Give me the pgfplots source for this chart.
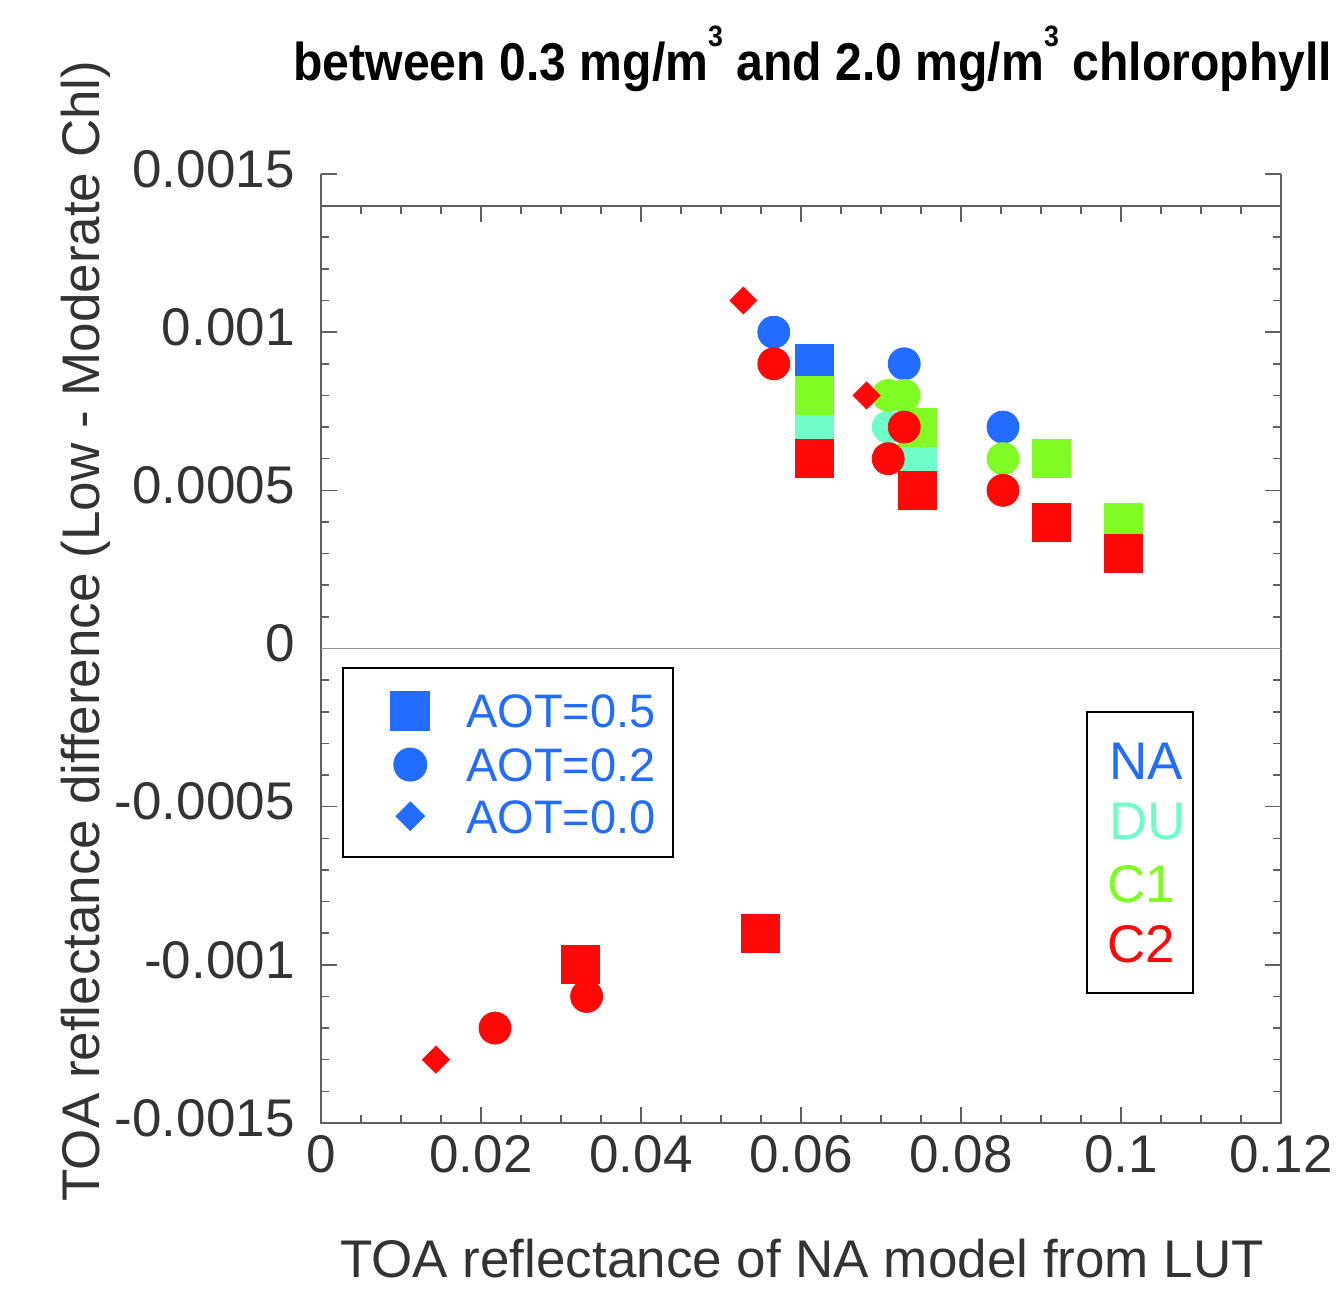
\documentclass[border=0pt]{standalone}
\usepackage{pgfplots}
\pgfplotsset{compat=1.18}
\usepackage{fontspec}
\setmainfont{Liberation Sans}

\definecolor{NAblue}{RGB}{34,108,255}
\definecolor{DUcyan}{RGB}{110,255,200}
\definecolor{Cgreen}{RGB}{128,252,36}
\definecolor{Cred}{RGB}{255,8,8}
\definecolor{txtgray}{RGB}{51,51,51}
\definecolor{axgray}{RGB}{95,95,95}

\newcommand{\bigfont}{\fontsize{26.5}{28}\selectfont}

\begin{document}
\begin{tikzpicture}
\useasboundingbox (-160.5pt,-85pt) rectangle (508pt,561.5pt);

\begin{axis}[
  scale only axis,
  width=480pt, height=474.5pt,
  xmin=0, xmax=0.12,
  ymin=-0.0015, ymax=0.0015,
  clip=false,
  scaled x ticks=false, scaled y ticks=false,
  axis line style={draw=none},
  xtick={0,0.02,0.04,0.06,0.08,0.1,0.12},
  xticklabels={0,0.02,0.04,0.06,0.08,0.1,0.12},
  minor x tick num=3,
  ytick={-0.0015,-0.001,-0.0005,0,0.0005,0.001,0.0015},
  yticklabels={-0.0015,-0.001,-0.0005,0,0.0005,0.001,0.0015},
  minor y tick num=4,
  xtick pos=bottom,
  ytick pos=both,
  tick align=inside,
  major tick length=8pt,
  minor tick length=4pt,
  tick style={axgray, line width=0.75pt},
  ticklabel style={font=\bigfont, text=txtgray, inner sep=0pt},
  xticklabel style={anchor=north, yshift=-6pt},
  yticklabel style={anchor=east, xshift=-13pt, yshift=2.5pt},
  legend style={
    at={(0.02156,0.4805)}, anchor=north west,
    draw=black, line width=1pt,
    inner xsep=8.7pt, inner ysep=12pt,
    row sep=8.8pt, column sep=18.4pt,
    font=\fontsize{23.5}{25}\selectfont,
    nodes={inner sep=0pt, text height=17pt, text depth=0pt, text=NAblue, anchor=west},
  },
  legend image code/.code={
    \path[draw=none, fill=none] (-25.1pt,0pt) -- (0pt,0pt);
    \draw[#1] plot coordinates {(0pt,0pt)};
  },
]

% frame: left, bottom, right, and the zero line
\draw[axgray, line width=0.75pt] (axis cs:0,0.0015) -- (axis cs:0,-0.0015)
  -- (axis cs:0.12,-0.0015) -- (axis cs:0.12,0.0015);
\draw[axgray!70, line width=0.75pt] (axis cs:0,0) -- (axis cs:0.12,0);

% AOT=0.5 (squares)
\addplot[only marks, mark=square*, mark size=9.5pt, color=NAblue, forget plot] coordinates {
  (0.0617,0.0009)
};
\addplot[only marks, mark=square*, mark size=9.5pt, color=DUcyan, forget plot] coordinates {
  (0.0617,0.0007) (0.0745,0.0006)
};
\addplot[only marks, mark=square*, mark size=9.5pt, color=Cgreen, forget plot] coordinates {
  (0.0617,0.0008) (0.0745,0.0007) (0.09125,0.0006) (0.10025,0.0004)
};
\addplot[only marks, mark=square*, mark size=9.5pt, color=Cred, forget plot] coordinates {
  (0.0617,0.0006) (0.0745,0.0005) (0.09125,0.0004) (0.10025,0.0003)
  (0.0324,-0.001) (0.0549,-0.0009)
};

% AOT=0.2 (circles)
\addplot[only marks, mark=*, mark size=8pt, color=NAblue, forget plot] coordinates {
  (0.0566,0.0010) (0.0729,0.0009) (0.08525,0.0007)
};
\addplot[only marks, mark=*, mark size=8pt, color=DUcyan, forget plot] coordinates {
  (0.0709,0.0007)
};
\addplot[only marks, mark=*, mark size=8pt, color=Cgreen, forget plot] coordinates {
  (0.0709,0.0008) (0.0729,0.0008) (0.08525,0.0006)
};
\addplot[only marks, mark=*, mark size=8pt, color=Cred, forget plot] coordinates {
  (0.0566,0.0009) (0.0729,0.0007) (0.0709,0.0006) (0.08525,0.0005)
  (0.02175,-0.0012) (0.0332,-0.0011)
};

% AOT=0.0 (diamonds)
\addplot[only marks, mark=square*, mark size=4.77pt, mark options={rotate=45}, color=Cred, forget plot] coordinates {
  (0.0528,0.0011) (0.0682,0.0008) (0.01437,-0.0013)
};

\addlegendimage{only marks, mark=square*, mark size=9.5pt, color=NAblue}
\addlegendentry{AOT=0.5}
\addlegendimage{only marks, mark=*, mark size=8pt, color=NAblue}
\addlegendentry{AOT=0.2}
\addlegendimage{only marks, mark=square*, mark size=4.77pt, mark options={rotate=45}, color=NAblue}
\addlegendentry{AOT=0.0}
\end{axis}

% the line with ticks at 0.0014
\begin{axis}[
  scale only axis,
  width=480pt, height=458.5pt,
  xmin=0, xmax=0.12, ymin=0, ymax=1,
  hide y axis,
  axis x line*=top,
  x axis line style={-, axgray, line width=0.75pt},
  xtick={0,0.02,0.04,0.06,0.08,0.1,0.12},
  xticklabels={},
  minor x tick num=3,
  tick align=inside,
  major tick length=8pt,
  minor tick length=4pt,
  tick style={axgray, line width=0.75pt},
]
\end{axis}

% model key
\draw[black, line width=1pt] (383.15pt,64.85pt) rectangle (435.85pt,205.65pt);
\node[anchor=base west, inner sep=0pt, font=\bigfont, text=NAblue] at (394pt,171.5pt) {NA};
\node[anchor=base west, inner sep=0pt, font=\bigfont, text=DUcyan] at (394pt,141.5pt) {DU};
\node[anchor=base west, inner sep=0pt, font=\bigfont, text=Cgreen] at (393pt,110.15pt) {C1};
\node[anchor=base west, inner sep=0pt, font=\bigfont, text=Cred] at (393pt,80pt) {C2};

% labels and title
\node[anchor=base, inner sep=0pt, font=\bigfont, text=txtgray] at (240.5pt,-77.5pt)
  {TOA reflectance of NA model from LUT};
\node[anchor=base west, rotate=90, inner sep=0pt, font=\bigfont, text=txtgray] at (-110.5pt,-39.5pt)
  {TOA reflectance difference (Low - Moderate Chl)};
\node[anchor=base west, inner sep=0pt] at (-14pt,521pt)
  {\scalebox{0.86}[0.95]{\fontsize{28}{30}\selectfont\bfseries between 0.3 mg/m\raisebox{18pt}{\fontsize{15.5}{16}\selectfont 3} and 2.0 mg/m\raisebox{18pt}{\fontsize{15.5}{16}\selectfont 3} chlorophyll}};
\end{tikzpicture}
\end{document}
